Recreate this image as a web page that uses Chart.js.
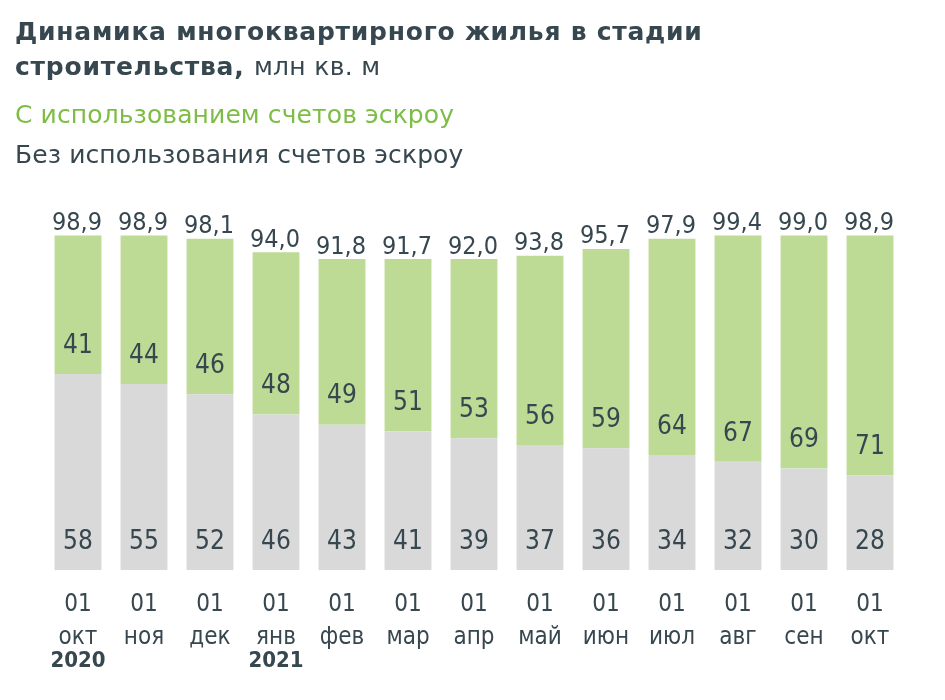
<!DOCTYPE html>
<html>
<head>
<meta charset="utf-8">
<script src="https://cdn.jsdelivr.net/npm/chart.js@4/dist/chart.umd.min.js"></script>
<style>
  html, body { margin: 0; padding: 0; background: #ffffff; }
  body { width: 945px; height: 700px; position: relative; overflow: hidden; font-family: 'DejaVu Sans', sans-serif; }
  #c { position: absolute; left: 0; top: 0; }
  .t { position: absolute; left: 15px; line-height: 1; white-space: nowrap; color: #37474f; }
  .title { font-size: 25px; font-weight: bold; letter-spacing: 0.75px; }
  .unit { font-weight: normal; letter-spacing: 0.3px; }
  .leg { font-size: 25px; letter-spacing: 0.1px; }
</style>
</head>
<body>
<canvas id="c" width="945" height="700"></canvas>
<div class="t title" style="top:19px">Динамика многоквартирного жилья в стадии</div>
<div class="t title" style="top:54px">строительства, <span class="unit">млн кв. м</span></div>
<div class="t leg" style="top:102px;color:#7dbd45">С использованием счетов эскроу</div>
<div class="t leg" style="top:142px">Без использования счетов эскроу</div>
<script>
const dayLabels = ['01','01','01','01','01','01','01','01','01','01','01','01','01'];
const monthLabels = ['окт','ноя','дек','янв','фев','мар','апр','май','июн','июл','авг','сен','окт'];
const yearLabels = ['2020','','','2021','','','','','','','','',''];
const withoutEscrow = [58,55,52,46,43,41,39,37,36,34,32,30,28];
const withEscrow = [41,44,46,48,49,51,53,56,59,64,67,69,71];
const totalLabels = ['98,9','98,9','98,1','94,0','91,8','91,7','92,0','93,8','95,7','97,9','99,4','99,0','98,9'];

const FONT = "'DejaVu Sans Condensed', 'DejaVu Sans', sans-serif";
const TEXT = '#37474f';

const labelPlugin = {
  id: 'labels',
  afterDatasetsDraw(chart) {
    const ctx = chart.ctx;
    ctx.save();
    ctx.fillStyle = TEXT;
    ctx.textAlign = 'center';
    ctx.textBaseline = 'middle';
    ctx.font = '26px ' + FONT;
    chart.data.datasets.forEach((ds, di) => {
      const meta = chart.getDatasetMeta(di);
      meta.data.forEach((bar, i) => {
        ctx.fillText(String(ds.data[i]), bar.x, bar.base - 28);
      });
    });
    ctx.font = '25px ' + FONT;
    const top = chart.getDatasetMeta(1);
    top.data.forEach((bar, i) => {
      ctx.fillText(totalLabels[i], bar.x - 1, bar.y - 12);
    });
    const xs = chart.scales.x;
    ctx.font = 'bold 22px ' + FONT;
    yearLabels.forEach((y, i) => {
      if (y) ctx.fillText(y, xs.getPixelForValue(i), 661);
    });
    ctx.restore();
  }
};

new Chart(document.getElementById('c'), {
  type: 'bar',
  data: {
    labels: dayLabels.map((d, i) => [d, monthLabels[i]]),
    datasets: [
      { label: 'Без использования счетов эскроу', data: withoutEscrow, backgroundColor: '#d9d9d9' },
      { label: 'С использованием счетов эскроу', data: withEscrow, backgroundColor: '#bddb95' }
    ]
  },
  options: {
    responsive: false,
    animation: false,
    layout: { padding: { top: 232, left: 45, right: 42, bottom: 0 } },
    datasets: { bar: { categoryPercentage: 1, barPercentage: 0.71, borderWidth: 0 } },
    plugins: { legend: { display: false }, tooltip: { enabled: false }, title: { display: false } },
    scales: {
      x: {
        stacked: true,
        grid: { display: false, drawTicks: false },
        border: { display: false },
        ticks: { color: TEXT, font: { family: FONT, size: 24, lineHeight: 1.375 }, padding: 18, maxRotation: 0, autoSkip: false },
        afterFit(axis) { axis.height = 130; }
      },
      y: { stacked: true, display: false, min: 0, max: 100 }
    }
  },
  plugins: [labelPlugin]
});
</script>
</body>
</html>
